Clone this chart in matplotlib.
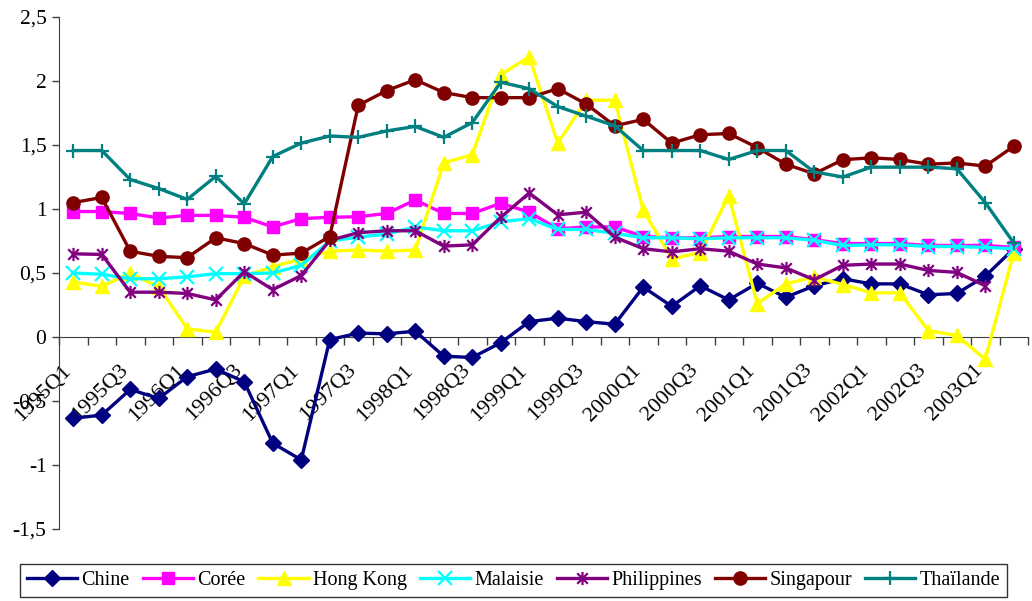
import numpy as np
import matplotlib
matplotlib.use("Agg")
import matplotlib.pyplot as plt
from matplotlib.path import Path
from matplotlib.transforms import ScaledTranslation

plt.rcParams['font.family'] = ['Liberation Serif', 'DejaVu Serif']

quarters = ["1995Q1", "1995Q2", "1995Q3", "1995Q4", "1996Q1", "1996Q2", "1996Q3", "1996Q4",
            "1997Q1", "1997Q2", "1997Q3", "1997Q4", "1998Q1", "1998Q2", "1998Q3", "1998Q4",
            "1999Q1", "1999Q2", "1999Q3", "1999Q4", "2000Q1", "2000Q2", "2000Q3", "2000Q4",
            "2001Q1", "2001Q2", "2001Q3", "2001Q4", "2002Q1", "2002Q2", "2002Q3", "2002Q4",
            "2003Q1", "2003Q2"]

chine = [-0.635, -0.61, -0.41, -0.48, -0.31, -0.25, -0.35, -0.83, -0.96, -0.02, 0.03, 0.025,
         0.045, -0.15, -0.16, -0.045, 0.12, 0.147, 0.12, 0.10, 0.39, 0.24, 0.40, 0.29, 0.42,
         0.31, 0.40, 0.455, 0.415, 0.415, 0.33, 0.34, 0.475, 0.69]
coree = [0.98, 0.98, 0.965, 0.93, 0.95, 0.95, 0.935, 0.86, 0.925, 0.935, 0.94, 0.965, 1.07,
         0.965, 0.965, 1.045, 0.975, 0.845, 0.86, 0.86, 0.785, 0.775, 0.775, 0.785, 0.785,
         0.785, 0.76, 0.73, 0.73, 0.73, 0.715, 0.715, 0.715, 0.70]
hongkong = [0.43, 0.395, 0.50, 0.39, 0.064, 0.037, 0.475, 0.55, 0.61, 0.67, 0.68, 0.67, 0.68,
            1.36, 1.425, 2.05, 2.19, 1.515, 1.85, 1.85, 0.99, 0.61, 0.66, 1.105, 0.26, 0.415,
            0.47, 0.41, 0.345, 0.345, 0.05, 0.012, -0.175, 0.66]
malaisie = [0.50, 0.49, 0.455, 0.455, 0.47, 0.495, 0.495, 0.50, 0.56, 0.75, 0.78, 0.805, 0.86,
            0.83, 0.83, 0.90, 0.925, 0.84, 0.84, 0.81, 0.775, 0.775, 0.767, 0.775, 0.775, 0.775,
            0.755, 0.715, 0.72, 0.72, 0.707, 0.707, 0.70, 0.69]
philippines = [0.65, 0.645, 0.35, 0.35, 0.34, 0.29, 0.51, 0.37, 0.48, 0.755, 0.815, 0.83, 0.83,
               0.71, 0.72, 0.935, 1.125, 0.955, 0.975, 0.78, 0.69, 0.665, 0.69, 0.67, 0.57,
               0.54, 0.447, 0.56, 0.57, 0.57, 0.52, 0.505, 0.40, np.nan]
singapour = [1.05, 1.09, 0.67, 0.63, 0.62, 0.775, 0.73, 0.64, 0.655, 0.785, 1.81, 1.925, 2.01,
             1.91, 1.87, 1.87, 1.87, 1.94, 1.82, 1.65, 1.70, 1.515, 1.58, 1.59, 1.48, 1.35,
             1.275, 1.385, 1.40, 1.387, 1.35, 1.36, 1.335, 1.49]
thailande = [1.457, 1.457, 1.23, 1.16, 1.075, 1.255, 1.04, 1.41, 1.515, 1.57, 1.56, 1.61, 1.645,
             1.56, 1.675, 1.99, 1.94, 1.80, 1.725, 1.65, 1.457, 1.457, 1.457, 1.387, 1.457,
             1.457, 1.29, 1.25, 1.327, 1.327, 1.327, 1.315, 1.05, 0.735]

names = ["Chine", "Corée", "Hong Kong", "Malaisie", "Philippines", "Singapour", "Thaïlande"]
series = [chine, coree, hongkong, malaisie, philippines, singapour, thailande]
colors = ["#000080", "#FF00FF", "#FFFF00", "#00FFFF", "#800080", "#800000", "#008080"]

# Excel-like asterisk marker: X plus vertical bar
star = Path([(-1, -1), (1, 1), (-1, 1), (1, -1), (0, -1.25), (0, 1.25)],
            [Path.MOVETO, Path.LINETO, Path.MOVETO, Path.LINETO, Path.MOVETO, Path.LINETO])
markers = ["D", "s", "^", "x", star, "o", "+"]
msizes = [8, 8, 10, 9.5, 9.5, 9.5, 10.5]

fig = plt.figure(figsize=(10.32, 6.01), dpi=100)
ax = fig.add_axes([59/1032, 1-529/601, (1028-59)/1032, (529-17)/601])

x = np.arange(len(quarters))
handles = []
for vals, name, col, mk, ms in zip(series, names, colors, markers, msizes):
    mew = 1.6 if mk in ("x", "+") or mk is star else 1.0
    h, = ax.plot(x, vals, color=col, lw=2.4, marker=mk, ms=ms, mec=col, mfc=col,
                 mew=mew, label=name, clip_on=False, zorder=3)
    handles.append(h)

ax.set_xlim(-0.5, len(quarters) - 0.5)
ax.set_ylim(-1.5, 2.5)

ax.spines['top'].set_visible(False)
ax.spines['right'].set_visible(False)
ax.spines['bottom'].set_position(('data', 0))
ax.spines['bottom'].set_color('#404040')
ax.spines['left'].set_color('#404040')
ax.spines['bottom'].set_zorder(1)

yt = [-1.5, -1, -0.5, 0, 0.5, 1, 1.5, 2, 2.5]
ax.set_yticks(yt)
ax.set_yticklabels([("%g" % v).replace(".", ",") for v in yt], fontsize=15.5)
ax.tick_params(axis='y', direction='out', length=5, width=1, pad=4, color='#404040')

# boundary ticks (minor) and labels at every 2nd category (major)
ax.set_xticks(np.arange(-0.5, len(quarters)), minor=True)
ax.set_xticks(x[::2])
ax.set_xticklabels(quarters[::2], fontsize=16, rotation=45, ha='right', va='center',
                   rotation_mode='anchor')
ax.tick_params(axis='x', which='major', length=0, pad=22)
ax.tick_params(axis='x', which='minor', direction='out', length=6, width=1, color='#404040')
offset = ScaledTranslation(-5/100, 0, fig.dpi_scale_trans)
for lab in ax.get_xticklabels():
    lab.set_transform(lab.get_transform() + offset)

leg = fig.legend(handles=handles, loc='upper left', bbox_to_anchor=(20/1032, 1-564/601),
                 ncol=7, fontsize=14.5, frameon=True, fancybox=False, handlelength=2.5,
                 handletextpad=0.2, columnspacing=0.65, borderpad=0.35, borderaxespad=0)
leg.get_frame().set_edgecolor('black')
leg.get_frame().set_linewidth(1.0)

fig.savefig("out.png", dpi=100)
